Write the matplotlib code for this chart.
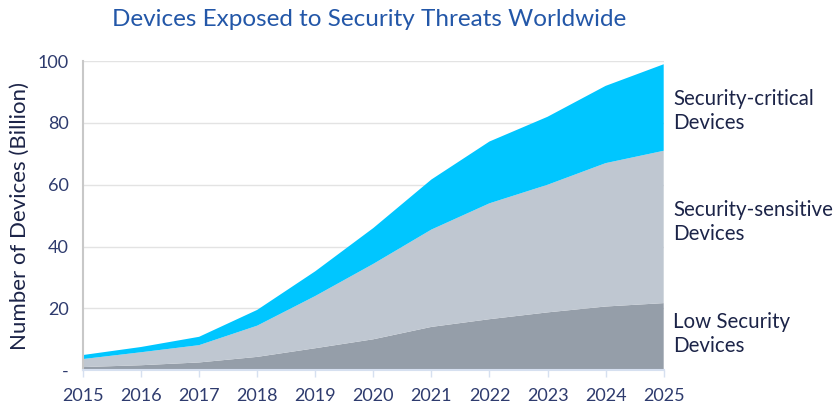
import numpy as np
import matplotlib
matplotlib.use("Agg")
from matplotlib import pyplot as plt

plt.rcParams['font.family'] = ['Lato', 'DejaVu Sans']

# data (billion devices)
years = [2015, 2016, 2017, 2018, 2019, 2020, 2021, 2022, 2023, 2024, 2025]
low_security = [1.0, 1.6, 2.5, 4.3, 7.1, 10.0, 14.0, 16.5, 18.7, 20.6, 21.7]
security_sensitive = [2.6, 4.2, 5.6, 10.1, 16.9, 24.4, 31.5, 37.5, 41.3, 46.4, 49.3]
security_critical = [1.3, 1.7, 2.7, 5.1, 8.0, 11.6, 16.2, 20.0, 22.0, 25.0, 28.0]

col_low = '#959ea9'
col_sens = '#bfc7d1'
col_crit = '#00c6ff'
navy = '#1c2448'
tick_col = '#2e3b6e'

fig = plt.figure(figsize=(8.38, 4.05), dpi=100)
ax = fig.add_axes([0.099, 0.086, 0.693, 0.763])

ax.stackplot(years, low_security, security_sensitive, security_critical,
             colors=[col_low, col_sens, col_crit], linewidth=0, zorder=2)

ax.set_xlim(2015, 2025)
ax.set_ylim(0, 100)
ax.set_yticks([0, 20, 40, 60, 80, 100])
ax.set_yticklabels(['-', '20', '40', '60', '80', '100'])
ax.set_xticks(years)
ax.set_xticklabels([str(y) for y in years])
ax.grid(axis='y', color='#e3e3e3', linewidth=1, zorder=0)
ax.set_axisbelow(True)

for s in ['top', 'right']:
    ax.spines[s].set_visible(False)
ax.spines['left'].set_color('#c8c8c8')
ax.spines['left'].set_linewidth(1.5)
ax.spines['bottom'].set_color('#d6e0f0')
ax.spines['bottom'].set_linewidth(1.5)
ax.tick_params(axis='y', length=0, pad=10, labelsize=13, labelcolor=tick_col)
ax.tick_params(axis='x', length=5, width=1, color='#d6e0f0', pad=8,
               labelsize=13, labelcolor=tick_col)

ax.set_ylabel('Number of Devices (Billion)', fontsize=16, color=navy, labelpad=6)
fig.text(0.44, 0.953, 'Devices Exposed to Security Threats Worldwide',
         ha='center', va='center', fontsize=17.5, color='#2357a8')

labels = ['Security-critical\nDevices', 'Security-sensitive\nDevices', 'Low Security\nDevices']
label_y = [111, 222, 334]
for txt, yp in zip(labels, label_y):
    fig.text(673 / 838, 1 - yp / 405, txt, ha='left', va='center',
             fontsize=14.8, color=navy, linespacing=1.2)

fig.savefig('out.png', dpi=100)
